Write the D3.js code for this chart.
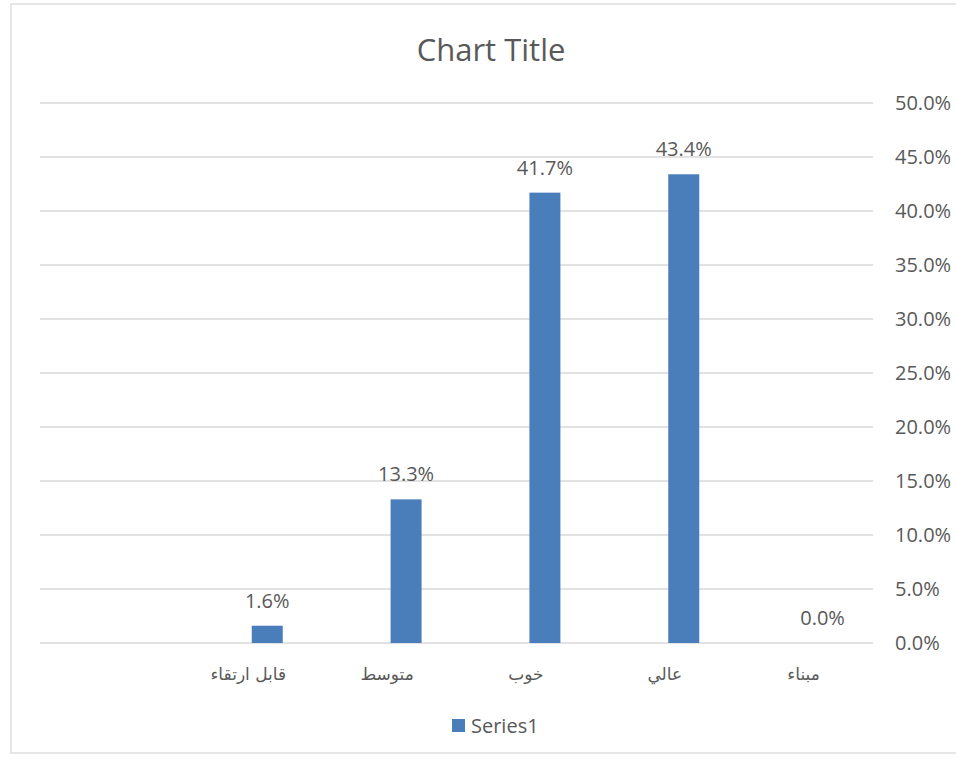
<!DOCTYPE html>
<html>
<head>
<meta charset="utf-8">
<script src="https://cdn.jsdelivr.net/npm/d3@7"></script>
<style>
  body { margin: 0; background: #fff; overflow: hidden; }
  svg text { fill: #595959; }
</style>
</head>
<body>
<div class="vis-barchart"></div>
<script>
// data, in sheet order (the category axis runs right to left)
const categories = ["مبناء", "عالي", "خوب", "متوسط", "قابل ارتقاء", ""];
const series1 = [0.0, 43.4, 41.7, 13.3, 1.6, null];
const seriesNames = ["Series1"];
const yTicks = [0, 5, 10, 15, 20, 25, 30, 35, 40, 45, 50];

const chartWidth = 956;
const chartHeight = 761;
const plot = { left: 40, right: 873, top: 103, bottom: 643 };
const barColor = "#4a7ebb";
const gridColor = "#d9d9d9";
const latin = "'Open Sans', sans-serif";

const svg = d3.select(".vis-barchart").append("svg")
    .attr("width", chartWidth)
    .attr("height", chartHeight);

// chart area border
svg.append("rect")
    .attr("x", 11).attr("y", 4)
    .attr("width", 962).attr("height", 749)
    .attr("fill", "none")
    .attr("stroke", gridColor)
    .attr("stroke-width", 1.3);

// title
svg.append("text")
    .attr("x", 491).attr("y", 61)
    .attr("text-anchor", "middle")
    .style("font-family", latin)
    .style("font-size", "31px")
    .text("Chart Title");

// scales
let x = d3.scaleBand()
    .domain(categories)
    .range([plot.right, plot.left]);
// clustered layout: Series1 sits in the second slot of each category
let slots = d3.scaleBand()
    .domain(["", ...seriesNames])
    .range([x.bandwidth() / 2 - 34.5, x.bandwidth() / 2 + 34.5])
    .paddingInner(0.184);
let y = d3.scaleLinear()
    .domain([0, 50])
    .range([plot.bottom, plot.top]);

// gridlines
svg.append("g").selectAll("line")
    .data(yTicks)
    .enter().append("line")
    .attr("x1", plot.left).attr("x2", plot.right)
    .attr("y1", d => y(d)).attr("y2", d => y(d))
    .attr("stroke", gridColor)
    .attr("stroke-width", 1.3);

// value axis on the right
const yAxis = svg.append("g")
    .attr("transform", "translate(" + plot.right + ",0)")
    .call(d3.axisRight(y).tickValues(yTicks).tickSize(0).tickPadding(22)
        .tickFormat(d => d.toFixed(1) + "%"));
yAxis.select(".domain").remove();
yAxis.selectAll("text")
    .attr("fill", "#595959")
    .style("font-family", latin)
    .style("font-size", "20px");

// category labels
const xAxis = svg.append("g")
    .attr("transform", "translate(0," + plot.bottom + ")")
    .call(d3.axisBottom(x).tickSize(0).tickPadding(25));
xAxis.select(".domain").remove();
xAxis.selectAll("text")
    .attr("fill", "#595959")
    .style("font-family", "'DejaVu Sans', sans-serif")
    .style("font-size", "17px");

// bars
const rows = categories.map((c, i) => ({ category: c, value: series1[i] }))
    .filter(d => d.value !== null);
const barX = d => x(d.category) + slots("Series1");

svg.append("g").selectAll(".bar")
    .data(rows)
    .enter().append("rect")
    .attr("fill", barColor)
    .attr("x", d => barX(d))
    .attr("width", slots.bandwidth())
    .attr("y", d => y(d.value))
    .attr("height", d => y(0) - y(d.value));

// data labels
svg.append("g").selectAll("text")
    .data(rows)
    .enter().append("text")
    .attr("x", d => barX(d) + slots.bandwidth() / 2)
    .attr("y", d => y(d.value) - 18)
    .attr("text-anchor", "middle")
    .style("font-family", latin)
    .style("font-size", "20px")
    .text(d => d.value.toFixed(1) + "%");

// legend
const legend = svg.append("g").attr("transform", "translate(452,719)");
legend.append("rect")
    .attr("width", 13).attr("height", 13)
    .attr("fill", barColor);
legend.append("text")
    .attr("x", 19).attr("y", 14)
    .style("font-family", latin)
    .style("font-size", "20px")
    .text(seriesNames[0]);
</script>
</body>
</html>
